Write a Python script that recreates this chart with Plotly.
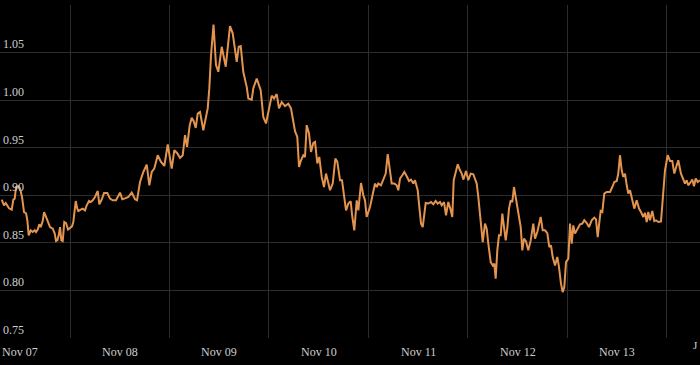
import pandas as pd
import plotly.graph_objects as go

# Hours elapsed since 2023-11-07 00:00 and the plotted value
hours = [
    7.52, 8.07, 8.48, 9.28, 9.93, 10.32, 10.65, 10.97, 11.52, 11.93, 12.42, 12.90, 13.38, 13.70, 14.03,
    14.52, 15.00, 15.48, 15.80, 16.21, 16.59, 16.93, 17.41, 17.73, 18.21, 18.62, 19.17, 19.83, 20.31,
    20.62, 20.94, 21.27, 21.59, 21.90, 22.24, 22.62, 23.04, 23.52, 24.00, 24.48, 24.80, 25.38, 25.76,
    26.00, 26.58, 27.07, 27.62, 28.03, 28.59, 29.00, 29.48, 30.03, 30.69, 31.07, 31.65, 32.21, 33.00,
    33.65, 34.31, 35.10,
    36.07, 36.62, 37.27, 38.07, 38.89, 39.69, 40.17, 40.89, 41.69, 42.51, 43.14, 43.72, 44.34, 45.17,
    45.96, 46.76, 47.58, 48.06, 48.54, 49.17, 49.82, 50.55, 51.20, 51.75, 52.24, 52.89, 53.37, 53.85,
    54.34, 54.82, 55.37, 56.17, 56.75, 57.23, 57.62, 58.03,
    58.63, 59.23, 59.79, 60.61, 61.58, 62.61, 63.26, 64.23, 64.71, 65.20, 65.82, 66.64, 67.03, 67.85,
    68.24, 69.06, 70.02, 70.65, 71.30, 71.86, 72.68, 73.23, 73.88, 74.44, 75.09, 75.89, 76.68, 77.33,
    78.30, 78.85,
    79.27, 79.75, 80.30, 80.71, 81.12, 81.68, 82.16, 82.72, 83.13, 83.68, 84.16, 84.74, 85.30, 85.78,
    86.34, 86.75, 87.40, 88.03, 88.51, 89.16, 89.64, 90.13, 90.61, 91.16,
    91.74, 92.13, 92.61, 93.19, 93.58, 94.23, 94.78, 95.19, 95.60, 96.40, 96.95, 97.61, 98.02, 98.40,
    99.05, 99.61, 100.19, 100.67, 101.23, 101.64, 102.26, 102.84, 103.23, 103.64, 104.19, 104.68,
    105.26, 105.81, 106.29, 106.85, 107.26, 107.91, 108.22, 108.71, 109.12, 109.50, 109.84, 110.47,
    111.12, 111.68, 112.25, 112.74, 113.29, 113.70, 114.26, 114.74, 115.30, 115.78, 116.26, 116.60,
    117.08, 117.57, 118.12,
    118.53, 118.92, 119.57, 120.12, 120.70, 121.33, 121.74, 122.15, 122.54, 122.95, 123.36, 123.60,
    124.15, 124.56, 124.95, 125.53, 126.01, 126.40, 126.73, 127.12, 127.53, 127.94, 128.33, 128.74,
    129.15, 129.53, 129.94, 130.35, 130.74, 131.15, 131.63, 132.19, 132.77, 133.15, 133.56, 134.05,
    134.60, 135.18, 135.81, 136.22, 136.77, 137.59, 138.08, 138.63, 139.19, 139.67, 140.08, 140.49,
    141.05, 141.60, 142.01, 142.49, 142.90, 143.29, 143.70, 144.26, 144.67, 145.08, 145.46, 145.87,
    146.67, 147.08, 147.63, 148.12, 148.70, 149.25, 149.90, 150.53, 150.94, 151.35, 151.66, 152.07,
    152.46, 152.94, 153.52, 154.32, 154.87, 155.36, 155.94, 156.32, 156.73, 157.14, 157.53, 157.94,
    158.35, 158.74, 159.15, 159.70, 160.18, 160.76, 161.32, 161.80, 162.36, 162.77, 163.18, 163.56,
    163.97, 164.53, 165.01, 165.42, 165.97, 166.63, 167.18, 167.59, 168.24, 168.80, 169.35, 169.84,
    170.42, 170.80, 171.45, 172.01, 172.42, 172.83, 173.21, 173.79, 174.18, 174.59, 175.00, 175.48,
    176.04,
]

values = [
    0.8955, 0.8895, 0.8919, 0.8863, 0.8849, 0.8955, 0.8965, 0.9087, 0.9095, 0.9071, 0.8982, 0.8824, 0.8811, 0.8737, 0.8579,
    0.8632, 0.8614, 0.8632, 0.8614, 0.8639, 0.8695, 0.8666, 0.8729, 0.8824, 0.8772, 0.8719, 0.8666, 0.8649, 0.8597,
    0.8519, 0.8526, 0.8579, 0.8666, 0.8526, 0.8519, 0.8719, 0.8708, 0.8639, 0.8660, 0.8674, 0.8719, 0.8940, 0.8860,
    0.8835, 0.8849, 0.8860, 0.8842, 0.8895, 0.8940, 0.8929, 0.8947, 0.8982, 0.9045, 0.8905, 0.8955, 0.9024, 0.9024,
    0.8965, 0.8947, 0.8947,
    0.9028, 0.8958, 0.8968, 0.8982, 0.9028, 0.8958, 0.8947, 0.9140, 0.9245, 0.9323, 0.9105, 0.9245, 0.9281, 0.9421,
    0.9351, 0.9308, 0.9534, 0.9421, 0.9281, 0.9474, 0.9445, 0.9393, 0.9421, 0.9632, 0.9508, 0.9737, 0.9814, 0.9779,
    0.9708, 0.9860, 0.9877, 0.9684, 0.9807, 0.9913, 1.0126, 1.0474,
    1.0795, 1.0368, 1.0298, 1.0561, 1.0351, 1.0779, 1.0702, 1.0403, 1.0561, 1.0568, 1.0295, 1.0140, 1.0018, 1.0005,
    1.0126, 1.0226, 1.0105, 0.9821, 0.9755, 0.9874, 1.0047, 1.0018, 1.0063, 0.9913, 0.9979, 0.9937, 0.9963, 0.9913,
    0.9674, 0.9614,
    0.9298, 0.9368, 0.9421, 0.9403, 0.9737, 0.9649, 0.9456, 0.9551, 0.9561, 0.9334, 0.9403, 0.9193, 0.9087, 0.9228,
    0.9123, 0.9053, 0.9123, 0.9386, 0.9351, 0.9158, 0.9158, 0.9018, 0.8842, 0.8913,
    0.8937, 0.8772, 0.8632, 0.8947, 0.8842, 0.9129, 0.9000, 0.8947, 0.8772, 0.8877, 0.8982, 0.9123, 0.9087, 0.9123,
    0.9105, 0.9176, 0.9228, 0.9432, 0.9281, 0.9123, 0.9123, 0.9105, 0.9053, 0.9176, 0.9211, 0.9245,
    0.9200, 0.9151, 0.9165, 0.9123, 0.9158, 0.9053, 0.8913, 0.8702, 0.8666, 0.8789, 0.8919, 0.8913,
    0.8929, 0.8905, 0.8940, 0.8913, 0.8929, 0.8895, 0.8929, 0.8789, 0.8929, 0.8860, 0.8772, 0.9158,
    0.9242, 0.9326, 0.9263,
    0.9228, 0.9165, 0.9256, 0.9158, 0.9228, 0.9221, 0.9176, 0.9123, 0.8982, 0.8772, 0.8597, 0.8508,
    0.8702, 0.8649, 0.8492, 0.8298, 0.8263, 0.8281, 0.8123, 0.8421, 0.8579, 0.8579, 0.8807, 0.8632,
    0.8526, 0.8653, 0.8860, 0.8947, 0.8929, 0.9087, 0.8965, 0.8842, 0.8666, 0.8421, 0.8544, 0.8516,
    0.8421, 0.8526, 0.8702, 0.8544, 0.8614, 0.8772, 0.8632, 0.8632, 0.8603, 0.8456, 0.8474, 0.8351,
    0.8263, 0.8351, 0.8246, 0.8071, 0.7982, 0.8035, 0.8298, 0.8334, 0.8702, 0.8492, 0.8684, 0.8597,
    0.8666, 0.8695, 0.8702, 0.8737, 0.8708, 0.8666, 0.8737, 0.8765, 0.8747, 0.8561, 0.8684, 0.8835,
    0.8824, 0.9018, 0.9035, 0.9035, 0.9087, 0.9140, 0.9151, 0.9228, 0.9421, 0.9263, 0.9193, 0.9228,
    0.9105, 0.9018, 0.9053, 0.8929, 0.8860, 0.8947, 0.8860, 0.8824, 0.8772, 0.8814, 0.8719, 0.8824,
    0.8737, 0.8835, 0.8729, 0.8737, 0.8719, 0.8726, 0.9053, 0.9263, 0.9421, 0.9361, 0.9361, 0.9228,
    0.9316, 0.9368, 0.9228, 0.9176, 0.9123, 0.9158, 0.9105, 0.9140, 0.9165, 0.9095, 0.9176, 0.9140,
    0.9158,
]

y_ticks = [0.75, 0.80, 0.85, 0.90, 0.95, 1.00, 1.05, 1.10]
y_tick_labels = ["0.75", "0.80", "0.85", "0.90", "0.95", "1.00", "1.05", ""]

day_labels = ["Nov 07", "Nov 08", "Nov 09", "Nov 10", "Nov 11", "Nov 12", "Nov 13"]

base = pd.Timestamp("2023-11-07 00:00")
times = base + pd.to_timedelta(hours, unit="h")
# each day label sits at the middle of its day
day_centres = pd.date_range(base + pd.Timedelta(hours=12), periods=len(day_labels), freq="D")

SERIF = "Liberation Serif"
TXT = "#cfcfcf"
GRID = "#2c2c2c"

fig = go.Figure()
fig.add_trace(go.Scatter(
    x=times, y=values, mode="lines",
    line=dict(color="#E3944F", width=2),
    hoverinfo="x+y",
))

x_start = base + pd.Timedelta(hours=7.1)
x_end = base + pd.Timedelta(hours=176.04)

annotations = [
    dict(text=lab, x=d, xref="x", y=0, yref="paper",
         xanchor="center", yanchor="top", yshift=-5, showarrow=False,
         font=dict(family=SERIF, size=12, color=TXT))
    for lab, d in zip(day_labels, day_centres)
]
annotations.append(dict(
    text="J", xref="paper", yref="paper", x=1.0, y=0.0,
    xanchor="right", yanchor="top", yshift=1, showarrow=False,
    font=dict(family=SERIF, size=11, color=TXT),
))

fig.update_layout(
    width=700, height=365,
    margin=dict(l=0, r=0, t=5, b=27),
    paper_bgcolor="#000000", plot_bgcolor="#000000",
    showlegend=False,
    font=dict(family=SERIF, size=12, color=TXT),
    xaxis=dict(
        type="date", range=[x_start, x_end],
        tick0=base, dtick=86400000,
        showticklabels=False,
        showgrid=True, gridcolor=GRID, gridwidth=1,
        zeroline=False, showline=False, ticks="",
    ),
    yaxis=dict(
        range=[0.75, 1.10],
        tickvals=y_ticks, ticktext=y_tick_labels,
        ticklabelposition="inside top",
        showgrid=True, gridcolor=GRID, gridwidth=1,
        zeroline=False, showline=False, ticks="",
        tickfont=dict(family=SERIF, size=12, color=TXT),
    ),
    annotations=annotations,
)

fig.write_html(
    "out.html",
    config={"displayModeBar": False},
    post_script="document.body.style.margin='0';document.body.style.background='#000';",
)
